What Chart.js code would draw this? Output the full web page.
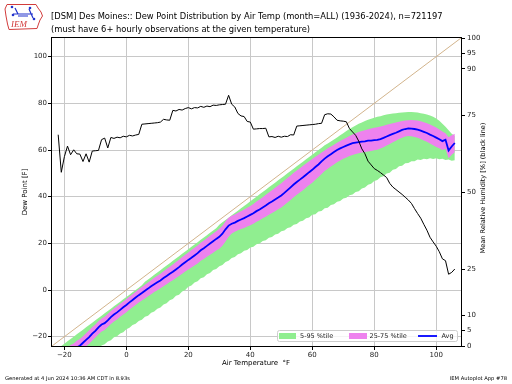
<!DOCTYPE html>
<html>
<head>
<meta charset="utf-8">
<script src="https://cdn.jsdelivr.net/npm/chart.js@4.4.1/dist/chart.umd.min.js"></script>
<style>
  html, body { margin: 0; padding: 0; background: #fff; }
  #dew-chart { display: block; }
</style>
</head>
<body>
<canvas id="dew-chart" width="512" height="384"></canvas>
<script>
// air temperature bins (F)
const temps = [-22, -21, -20, -19, -18, -17, -16, -15, -14, -13,
  -12, -11, -10, -9, -8, -7, -6, -5, -4, -3,
  -2, -1, 0, 1, 2, 3, 4, 5, 6, 7,
  8, 9, 10, 11, 12, 13, 14, 15, 16, 17,
  18, 19, 20, 21, 22, 23, 24, 25, 26, 27,
  28, 29, 30, 31, 32, 33, 34, 35, 36, 37,
  38, 39, 40, 41, 42, 43, 44, 45, 46, 47,
  48, 49, 50, 51, 52, 53, 54, 55, 56, 57,
  58, 59, 60, 61, 62, 63, 64, 65, 66, 67,
  68, 69, 70, 71, 72, 73, 74, 75, 76, 77,
  78, 79, 80, 81, 82, 83, 84, 85, 86, 87,
  88, 89, 90, 91, 92, 93, 94, 95, 96, 97,
  98, 99, 100, 101, 102, 103, 104, 105, 106];

// dew point percentiles (F)
const p95 = [-25, -24, -23, -22, -21, -20, -19, -18, -17, -16,
  -15, -14, -13, -12, -11, -10, -9, -8, -7, -6,
  -5, -4, -3, -2, -1, 0, 1, 2, 3.5, 4.5,
  5.5, 6.5, 7.5, 8.5, 9.5, 10.5, 11.5, 12.5, 13.5, 14.5,
  15.5, 16.5, 17.5, 18.5, 19.5, 20.5, 21.5, 22.5, 23.5, 24.5,
  25.5, 26.5, 28, 29, 30, 31, 32, 33, 34, 35,
  36, 37, 38, 39, 40, 41, 42, 43, 44, 45,
  46, 47, 48, 49, 50, 51, 52, 53, 54, 55,
  56, 57, 58, 59, 60, 61, 62, 62.8, 63.6, 64.5,
  65.4, 66.3, 67.2, 68.1, 69, 69.8, 70.5, 71.2, 71.8, 72.4,
  73, 73.4, 73.8, 74.2, 74.5, 74.9, 75.2, 75.4, 75.6, 75.8,
  76, 76.1, 76.2, 76.3, 76.3, 76.2, 76.1, 75.8, 75.5, 75.2,
  74.8, 74.2, 73.5, 72.5, 71.3, 70, 68.5, 67, 66];

const p75 = [-27, -26.3, -25.2, -24.6, -23.6, -22.9, -21.8, -21, -19.8, -18.5,
  -17.3, -15.9, -14.8, -13.4, -12.2, -11.5, -10.3, -9, -7.9, -7,
  -5.9, -4.9, -3.9, -2.8, -1.8, -0.7, 0.3, 1.3, 2.3, 3.2,
  4.2, 5.2, 6.1, 7, 8, 9, 10, 10.9, 12, 13,
  14.1, 15.1, 16.1, 17.1, 18.1, 19.1, 20.3, 21.2, 22.2, 23.2,
  24.2, 25.2, 26.2, 27.5, 29.5, 31, 31.8, 32.4, 33.1, 33.8,
  34.5, 35.3, 36, 36.9, 37.9, 38.8, 39.8, 40.8, 41.8, 42.8,
  43.8, 44.8, 45.8, 46.9, 48, 49.1, 50.2, 51.2, 52.2, 53.2,
  54.2, 55.2, 56.1, 57.1, 58, 58.9, 59.8, 60.7, 61.5, 62.3,
  63.1, 63.9, 64.6, 65.3, 66, 66.6, 67.2, 67.7, 68.1, 68.5,
  68.9, 69.2, 69.5, 69.8, 70.1, 70.4, 70.8, 71.1, 71.5, 71.8,
  72.1, 72.4, 72.6, 72.8, 72.9, 72.8, 72.6, 72.3, 71.9, 71.5,
  70.9, 70.3, 69.6, 68.8, 67.9, 67.2, 65.5, 66.3, 67];

const dpAvg = [-29.5, -28.8, -27.8, -27.2, -26.3, -25.6, -24.6, -23.9, -22.6, -21.4,
  -20.2, -18.7, -17.5, -16.0, -14.8, -14.2, -13.0, -11.6, -10.5, -9.6,
  -8.5, -7.4, -6.4, -5.3, -4.3, -3.2, -2.2, -1.3, -0.3, 0.6,
  1.6, 2.5, 3.3, 4.1, 5.1, 6.0, 7.0, 7.8, 8.8, 9.8,
  10.9, 11.9, 12.9, 13.8, 14.8, 15.8, 17.0, 17.9, 18.9, 19.9,
  20.9, 21.9, 22.8, 24.1, 26.0, 27.6, 28.4, 28.9, 29.6, 30.2,
  30.8, 31.5, 32.2, 32.9, 33.8, 34.5, 35.4, 36.2, 37.2, 37.9,
  38.8, 39.6, 40.5, 41.6, 42.8, 44.0, 45.2, 46.3, 47.3, 48.3,
  49.4, 50.5, 51.5, 52.7, 53.8, 55.1, 56.3, 57.3, 58.2, 59.1,
  60.0, 60.7, 61.3, 61.9, 62.4, 62.9, 63.2, 63.4, 63.6, 63.7,
  64.0, 64.0, 64.2, 64.3, 64.7, 65.2, 65.8, 66.4, 66.9, 67.4,
  68.0, 68.6, 69.0, 69.3, 69.2, 69.0, 68.7, 68.3, 67.8, 67.3,
  66.6, 66.0, 65.3, 64.6, 63.8, 64.4, 59.8, 61.5, 63.0];

const p25 = [-32, -31.2, -30.4, -29.6, -28.8, -28, -27.1, -26.3, -25.2, -24.1,
  -23, -21.6, -20.4, -19, -17.8, -17.1, -15.9, -14.6, -13.5, -12.6,
  -11.5, -10.5, -9.5, -8.4, -7.4, -6.4, -5.4, -4.5, -3.6, -2.7,
  -1.8, -0.9, -0.1, 0.7, 1.6, 2.5, 3.4, 4.2, 5.1, 6,
  7, 7.9, 8.8, 9.6, 10.5, 11.4, 12.5, 13.3, 14.2, 15.1,
  16, 16.9, 17.7, 19, 20.8, 22.8, 24.2, 25, 25.6, 26.1,
  26.6, 27.2, 27.8, 28.4, 29.2, 29.9, 30.7, 31.4, 32.3, 33,
  33.8, 34.6, 35.4, 36.4, 37.5, 38.6, 39.7, 40.8, 41.8, 42.8,
  43.9, 45, 46, 47.2, 48.4, 49.7, 51, 52, 52.9, 53.8,
  54.7, 55.5, 56.2, 56.8, 57.4, 57.9, 58.3, 58.6, 58.9, 59.1,
  59.4, 59.6, 59.9, 60.1, 60.6, 61.2, 61.9, 62.6, 63.3, 64,
  64.7, 65.3, 65.8, 66, 65.9, 65.6, 65.2, 64.7, 64.1, 63.5,
  62.8, 62, 61.3, 60.7, 60, 60.5, 56.5, 58, 59];

const p5 = [-36, -35.2, -34, -33.4, -32.3, -31.6, -30.4, -30, -28.8, -28.1,
  -27.4, -26.6, -25.3, -24.9, -23.8, -23.2, -22.1, -21.5, -20.3, -19.8,
  -18.6, -18.1, -16.8, -16.2, -15, -14.5, -13.3, -12.7, -11.5, -11,
  -9.8, -9.2, -8, -7.5, -6.2, -5.7, -4.4, -3.9, -2.5, -2,
  -0.6, 0, 1.4, 1.9, 3.2, 3.7, 5, 5.5, 6.8, 7.3,
  8.6, 9, 10.2, 10.7, 12, 12.5, 13.7, 14.1, 15.3, 15.7,
  16.8, 17.1, 18.2, 18.5, 19.6, 19.9, 21, 21.3, 22.4, 22.7,
  23.8, 24.1, 25.2, 25.5, 26.6, 26.9, 28, 28.3, 29.4, 29.7,
  30.8, 31.1, 32.2, 32.5, 33.6, 33.9, 35, 35.3, 36.4, 36.7,
  37.8, 38.1, 39.2, 39.5, 40.6, 40.9, 42, 42.3, 43.5, 43.9,
  45.1, 45.5, 46.7, 47.1, 48.3, 48.7, 49.9, 50.3, 51.5, 51.9,
  53, 53.3, 54.3, 54.4, 55.2, 55.2, 55.9, 55.7, 56.3, 56,
  56.5, 56.1, 56.5, 56, 56.2, 55.7, 55.9, 55.4, 55.6];

// mean relative humidity (%) on the right axis
const rhMean = [68.6, 56.4, 61.5, 64.9, 62.1, 63.7, 62.4, 62.3, 59.9, 62.4,
  59.7, 63.3, 63.4, 63.5, 67.0, 67.5, 64.3, 67.7, 67.4, 67.8,
  67.6, 68.1, 67.9, 68.4, 68.2, 68.5, 68.7, 72.0, 72.1, 72.2,
  72.3, 72.4, 72.5, 72.7, 73.6, 73.4, 73.3, 76.5, 76.3, 76.8,
  76.6, 77.1, 77.4, 77.0, 77.4, 77.3, 77.8, 77.5, 77.9, 77.7,
  78.2, 78.1, 78.3, 78.4, 78.5, 81.4, 78.5, 77.6, 75.5, 74.7,
  74.5, 72.9, 72.7, 70.4, 70.5, 70.6, 70.6, 70.7, 67.9, 68.0,
  67.7, 68.1, 67.8, 68.1, 68.0, 68.6, 68.5, 71.4, 71.5, 71.6,
  71.7, 71.8, 71.9, 72.0, 72.2, 72.3, 75.1, 75.4, 75.3, 74.4,
  73.3, 73.1, 73.0, 72.8, 70.6, 69.5, 68.4, 66.5, 64.0, 62.4,
  60.0, 58.8, 57.6, 57.0, 56.3, 55.5, 54.7, 52.8, 51.6, 50.8,
  50.0, 49.2, 48.3, 47.4, 46.3, 44.6, 43.0, 41.5, 39.5, 37.6,
  35.3, 33.8, 32.4, 30.6, 28.3, 27.7, 23.3, 23.9, 25.0];

// 1:1 saturation line across the axis range
const diagTemps = [-24, 108];

const xTicks = [-20, 0, 20, 40, 60, 80, 100];
const yTicks = [-20, 0, 20, 40, 60, 80, 100];
const rhTicks = [0, 5, 10, 25, 50, 75, 90, 95, 100];

const titleLines = [
  '[DSM] Des Moines:: Dew Point Distribution by Air Temp (month=ALL) (1936-2024), n=721197',
  '(must have 6+ hourly observations at the given temperature)'
];

const FONT = "'DejaVu Sans', sans-serif";
const fmt = v => (v < 0 ? '\u2212' + Math.abs(v) : String(v));
const pts = arr => temps.map((t, i) => ({ x: t, y: arr[i] }));

function drawLogo(ctx) {
  ctx.save();
  ctx.strokeStyle = '#d23c3c';
  ctx.lineWidth = 1;
  ctx.beginPath();
  ctx.moveTo(7, 4.5);
  ctx.lineTo(36, 4.5);
  ctx.lineTo(38, 8);
  ctx.lineTo(41, 12);
  ctx.lineTo(42.5, 16);
  ctx.lineTo(40, 20);
  ctx.lineTo(38.5, 24);
  ctx.lineTo(37, 28.5);
  ctx.lineTo(9, 29.5);
  ctx.lineTo(7.5, 24);
  ctx.lineTo(6, 16);
  ctx.lineTo(5, 9);
  ctx.closePath();
  ctx.stroke();
  ctx.strokeStyle = '#2233cc';
  ctx.fillStyle = '#2233cc';
  ctx.lineWidth = 1.2;
  ctx.beginPath();
  ctx.moveTo(13, 14); ctx.lineTo(33, 14);
  ctx.moveTo(15, 8); ctx.lineTo(18, 14);
  ctx.moveTo(29, 9); ctx.lineTo(33, 18);
  ctx.moveTo(18, 16); ctx.lineTo(28, 16);
  ctx.stroke();
  [[12, 7], [13, 15], [34, 19], [30, 8]].forEach(([cx, cy]) => {
    ctx.beginPath(); ctx.arc(cx, cy, 1.3, 0, Math.PI * 2); ctx.fill();
  });
  ctx.fillStyle = '#d23c3c';
  ctx.font = "italic 9px 'Liberation Serif', serif";
  ctx.textBaseline = 'alphabetic';
  ctx.fillText('IEM', 11, 27);
  ctx.restore();
}

const decor = {
  id: 'decor',
  afterDraw(chart) {
    const ctx = chart.ctx, a = chart.chartArea;
    ctx.save();

    // frame
    ctx.strokeStyle = '#000';
    ctx.lineWidth = 1;
    ctx.strokeRect(a.left - 0.5, a.top - 0.5, a.right - a.left + 1, a.bottom - a.top + 1);

    // title, fitted to the reference width
    ctx.fillStyle = '#000';
    ctx.textBaseline = 'middle';
    ctx.textAlign = 'left';
    ctx.font = '10px ' + FONT;
    const w = ctx.measureText(titleLines[0]).width;
    const size = 10 * 392 / w;
    ctx.font = size.toFixed(2) + 'px ' + FONT;
    ctx.fillText(titleLines[0], 51, 17);
    ctx.fillText(titleLines[1], 51, 30);

    drawLogo(ctx);

    // axis titles
    ctx.font = '7px ' + FONT;
    ctx.textAlign = 'center';
    ctx.fillText('Air Temperature  \u00b0F', 256, 363);
    ctx.save();
    ctx.translate(25, 192);
    ctx.rotate(-Math.PI / 2);
    ctx.fillText('Dew Point [F]', 0, 0);
    ctx.restore();
    ctx.save();
    ctx.translate(483, 188);
    ctx.rotate(-Math.PI / 2);
    ctx.font = '6.6px ' + FONT;
    ctx.fillText('Mean Relative Humidity [%] (black line)', 0, 0);
    ctx.restore();

    // legend box, lower right inside the plot
    const lx = 277.5, ly = 330.5, lw = 180, lh = 11;
    ctx.fillStyle = 'rgba(255,255,255,0.8)';
    ctx.strokeStyle = '#cccccc';
    ctx.beginPath();
    ctx.roundRect(lx, ly, lw, lh, 2);
    ctx.fill();
    ctx.stroke();
    ctx.fillStyle = '#90ee90';
    ctx.fillRect(279, 333, 17, 6);
    ctx.fillStyle = '#ee82ee';
    ctx.fillRect(349, 333, 18, 6);
    ctx.strokeStyle = '#0000ff';
    ctx.lineWidth = 1.8;
    ctx.beginPath();
    ctx.moveTo(418, 336); ctx.lineTo(437, 336);
    ctx.stroke();
    ctx.fillStyle = '#222';
    ctx.font = '6.5px ' + FONT;
    ctx.textAlign = 'left';
    ctx.fillText('5-95 %tile', 300, 336);
    ctx.fillText('25-75 %tile', 369.5, 336);
    ctx.fillText('Avg', 441.5, 336);

    // footer
    ctx.fillStyle = '#000';
    ctx.font = '5.2px ' + FONT;
    ctx.fillText('Generated at 4 Jun 2024 10:36 AM CDT in 8.93s', 5, 379);
    ctx.textAlign = 'right';
    ctx.fillText('IEM Autoplot App #78', 507, 379);

    ctx.restore();
  }
};

const tickFont = { family: FONT, size: 7 };

new Chart(document.getElementById('dew-chart'), {
  type: 'line',
  data: {
    datasets: [
      {
        label: '5-95 %tile',
        data: pts(p95),
        fill: '+1',
        backgroundColor: '#90ee90',
        borderWidth: 0,
        pointRadius: 0,
        yAxisID: 'y',
        order: 6,
        clip: 0
      },
      {
        label: 'p5',
        data: pts(p5),
        fill: false,
        borderWidth: 0,
        borderColor: 'rgba(0,0,0,0)',
        pointRadius: 0,
        yAxisID: 'y',
        order: 6,
        clip: 0
      },
      {
        label: '25-75 %tile',
        data: pts(p75),
        fill: '+1',
        backgroundColor: '#ee82ee',
        borderWidth: 0,
        pointRadius: 0,
        yAxisID: 'y',
        order: 5,
        clip: 0
      },
      {
        label: 'p25',
        data: pts(p25),
        fill: false,
        borderWidth: 0,
        borderColor: 'rgba(0,0,0,0)',
        pointRadius: 0,
        yAxisID: 'y',
        order: 5,
        clip: 0
      },
      {
        label: '1:1',
        data: diagTemps.map(t => ({ x: t, y: t })),
        borderColor: '#d2b48c',
        borderWidth: 1,
        pointRadius: 0,
        fill: false,
        yAxisID: 'y',
        order: 4,
        clip: 0
      },
      {
        label: 'Avg',
        data: pts(dpAvg),
        borderColor: '#0000ff',
        borderWidth: 1.8,
        pointRadius: 0,
        fill: false,
        yAxisID: 'y',
        order: 2,
        clip: 0
      },
      {
        label: 'Mean RH',
        data: pts(rhMean),
        borderColor: '#000000',
        borderWidth: 1,
        pointRadius: 0,
        fill: false,
        yAxisID: 'y1',
        order: 1,
        clip: 0
      }
    ]
  },
  options: {
    responsive: false,
    maintainAspectRatio: false,
    devicePixelRatio: 1,
    animation: false,
    events: [],
    layout: { padding: { top: 38, left: 0, right: 0, bottom: 0 } },
    elements: { line: { tension: 0 } },
    plugins: {
      legend: { display: false },
      title: { display: false },
      tooltip: { enabled: false }
    },
    scales: {
      x: {
        type: 'linear',
        min: -24,
        max: 108,
        afterBuildTicks: s => { s.ticks = xTicks.map(v => ({ value: v })); },
        afterFit: s => { s.height = 38; },
        grid: { color: '#c8c8c8', tickColor: '#000', tickLength: 4 },
        border: { display: false },
        ticks: { font: tickFont, color: '#222', padding: 1, maxRotation: 0, autoSkip: false, callback: fmt }
      },
      y: {
        type: 'linear',
        position: 'left',
        min: -24,
        max: 108,
        afterBuildTicks: s => { s.ticks = yTicks.map(v => ({ value: v })); },
        afterFit: s => { s.width = 52; },
        grid: { color: '#c8c8c8', tickColor: '#000', tickLength: 4 },
        border: { display: false },
        ticks: { font: tickFont, color: '#222', padding: 1, autoSkip: false, callback: fmt }
      },
      y1: {
        type: 'linear',
        position: 'right',
        min: 0,
        max: 100,
        afterBuildTicks: s => { s.ticks = rhTicks.map(v => ({ value: v })); },
        afterFit: s => { s.width = 51; },
        grid: { drawOnChartArea: false, tickColor: '#000', tickLength: 4 },
        border: { display: false },
        ticks: { font: tickFont, color: '#222', padding: 2, autoSkip: false, callback: fmt }
      }
    }
  },
  plugins: [decor]
});
</script>
</body>
</html>
